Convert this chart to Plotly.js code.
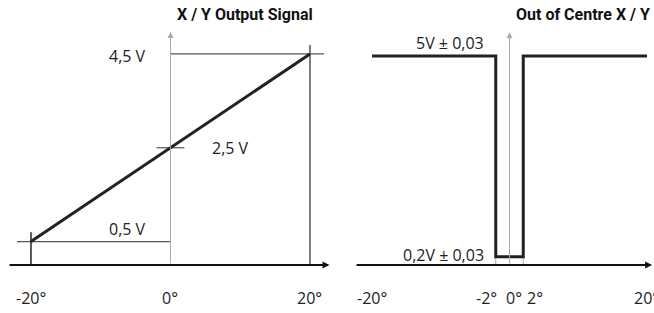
<!DOCTYPE html>
<html><head><meta charset="utf-8">
<script src="https://cdn.plot.ly/plotly-3.0.1.min.js"></script>
<style>html,body{margin:0;padding:0;background:#fff}#chart{width:654px;height:313px}</style>
</head><body><div id="chart"></div>
<script>
// Left: X / Y Output Signal
const leftDeg = [-20, 20];
const leftVolt = [0.5, 4.5];
const leftTicks = [-20, 0, 20];
const leftTickText = ['-20°', '0°', '20°'];
const leftLabelText = ['0,5 V', '2,5 V', '4,5 V'];
const leftLabelVolt = [0.5, 2.5, 4.5];
// Right: Out of Centre X / Y
const rightDeg = [-20, -2, -2, 2, 2, 20];
const rightVolt = [5, 5, 0.2, 0.2, 5, 5];
const rightTicks = [-20, -2, 0, 2, 20];
const rightTickText = ['-20°', '-2°', '0°', '2°', '20°'];
const rightLabelText = ['5V ± 0,03', '0,2V ± 0,03'];
const rightLabelVolt = [5, 0.2];
const titles = ['X / Y Output Signal', 'Out of Centre X / Y'];

const W = 654, H = 313;
const font = {family: 'Open Sans, sans-serif', size: 16, color: '#222'};
const dark = '#222', mid = '#555', light = '#aaa';

const traces = [
  {x: leftDeg, y: leftVolt, xaxis: 'x', yaxis: 'y', mode: 'lines', line: {color: dark, width: 3}, hoverinfo: 'skip'},
  {x: rightDeg, y: rightVolt, xaxis: 'x2', yaxis: 'y2', mode: 'lines', line: {color: dark, width: 3}, hoverinfo: 'skip'}
];

const shapes = [];
const line = (xr, yr, x0, y0, x1, y1, color, width) =>
  shapes.push({type: 'line', xref: xr, yref: yr, x0, y0, x1, y1, line: {color, width}, layer: 'below'});

// left reference lines
line('x', 'y', 0, leftVolt[1], 22, leftVolt[1], mid, 1.2);
line('x', 'y', leftDeg[1], 0, leftDeg[1], 4.69, mid, 1.5);
line('x', 'y', -2, leftLabelVolt[1], 2, leftLabelVolt[1], mid, 1.2);
line('x', 'y', -22, leftVolt[0], 0, leftVolt[0], mid, 1.2);
line('x', 'y', leftDeg[0], 0, leftDeg[0], 0.7, dark, 1.5);
// right reference lines
line('x2', 'y2', -2, 0, -2, 0.2, light, 1);
line('x2', 'y2', 2, 0, 2, 0.2, light, 1);

const ann = [];
// axes arrows
const arrow = (xr, yr, x, y, ax, ay, color, width, size) => ann.push({
  xref: xr, yref: yr, axref: xr, ayref: yr, x, y, ax, ay, text: '', showarrow: true,
  arrowcolor: color, arrowwidth: width, arrowhead: 2, arrowsize: size, standoff: 0, startstandoff: 0
});
arrow('x', 'y', 0, 4.97, 0, 0, light, 1, 1.2);
arrow('x', 'y', 22.8, 0, -23.29, 0, '#111', 2, 0.7);
arrow('x2', 'y2', 0, 5.57, 0, 0, light, 1, 1.2);
arrow('x2', 'y2', 20.75, 0, -22.47, 0, '#111', 2, 0.7);

// tick labels
const leftShift = [0, 0, 0];
leftTicks.forEach((v, i) => ann.push({xref: 'x', yref: 'y', x: v, y: 0, text: leftTickText[i],
  showarrow: false, yshift: -33, xshift: leftShift[i], font}));
const rightShift = [0, -9, 4, 12, 0];
rightTicks.forEach((v, i) => ann.push({xref: 'x2', yref: 'y2', x: v, y: 0, text: rightTickText[i],
  showarrow: false, yshift: -33, xshift: rightShift[i], font}));

// value labels
ann.push({xref: 'x', yref: 'y', x: 0, y: leftLabelVolt[0], text: leftLabelText[0], showarrow: false,
  xanchor: 'right', xshift: -22, yanchor: 'bottom', yshift: 0, font});
ann.push({xref: 'x', yref: 'y', x: 0, y: leftLabelVolt[1], text: leftLabelText[1], showarrow: false,
  xanchor: 'left', xshift: 40, font});
ann.push({xref: 'x', yref: 'y', x: 0, y: leftLabelVolt[2], text: leftLabelText[2], showarrow: false,
  xanchor: 'right', xshift: -22, yshift: -2, font});
ann.push({xref: 'x2', yref: 'y2', x: -2, y: rightLabelVolt[0], text: rightLabelText[0], showarrow: false,
  xanchor: 'right', xshift: -10, yanchor: 'bottom', yshift: 0, font});
ann.push({xref: 'x2', yref: 'y2', x: -2, y: rightLabelVolt[1], text: rightLabelText[1], showarrow: false,
  xanchor: 'right', xshift: -10, yshift: 2, font});

// titles
const tfont = {family: 'Roboto, sans-serif', size: 16, color: '#111', weight: 'bold'};
ann.push({xref: 'paper', yref: 'paper', x: 315 / W, y: 1 - 14 / H, text: '<b>' + titles[0] + '</b>',
  showarrow: false, xanchor: 'right', yanchor: 'middle', font: tfont});
ann.push({xref: 'paper', yref: 'paper', x: 652 / W, y: 1 - 14 / H, text: '<b>' + titles[1] + '</b>',
  showarrow: false, xanchor: 'right', yanchor: 'middle', font: tfont});

const yDom = [48 / H, 1];
const noAxis = {visible: false, showgrid: false, zeroline: false, fixedrange: true};
const layout = {
  width: W, height: H, margin: {l: 0, r: 0, t: 0, b: 0},
  paper_bgcolor: '#fff', plot_bgcolor: 'rgba(0,0,0,0)', showlegend: false,
  xaxis: Object.assign({}, noAxis, {domain: [0, 330 / W], range: [-24.44, 22.87]}),
  yaxis: Object.assign({}, noAxis, {domain: yDom, range: [0, 265 / 46.9]}),
  xaxis2: Object.assign({}, noAxis, {domain: [330 / W, 1], range: [-26.11, 21.02], anchor: 'y2'}),
  yaxis2: Object.assign({}, noAxis, {domain: yDom, range: [0, 265 / 41.8], anchor: 'x2'}),
  shapes, annotations: ann
};
Plotly.newPlot('chart', traces, layout, {staticPlot: true, displayModeBar: false});
</script></body></html>
